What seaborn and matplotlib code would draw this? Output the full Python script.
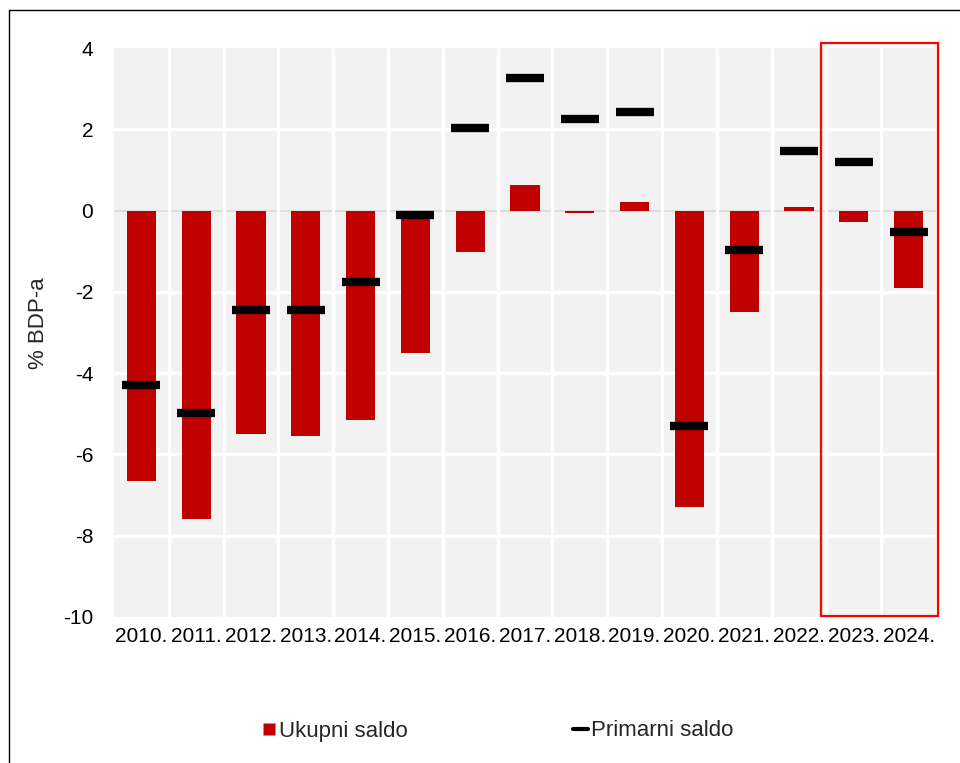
import matplotlib
matplotlib.use("Agg")
import matplotlib.pyplot as plt
import seaborn as sns
import pandas as pd
from matplotlib.lines import Line2D
from matplotlib.patches import Rectangle

years = ["2010.", "2011.", "2012.", "2013.", "2014.", "2015.", "2016.", "2017.",
         "2018.", "2019.", "2020.", "2021.", "2022.", "2023.", "2024."]
ukupni_saldo = [-6.65, -7.6, -5.5, -5.55, -5.15, -3.5, -1.02, 0.62,
                -0.05, 0.2, -7.3, -2.5, 0.1, -0.27, -1.9]
primarni_saldo = [-4.3, -4.98, -2.45, -2.45, -1.75, -0.1, 2.03, 3.27,
                  2.25, 2.42, -5.3, -0.97, 1.47, 1.2, -0.52]
yticks = [4, 2, 0, -2, -4, -6, -8, -10]

df = pd.DataFrame({"godina": years, "ukupni": ukupni_saldo, "primarni": primarni_saldo})

sns.set_theme(style="white")
plt.rcParams["font.family"] = ["Liberation Sans", "DejaVu Sans"]

fig = plt.figure(figsize=(9.6, 7.63), dpi=100)
ax = fig.add_axes([114/960, 146/763, 822/960, 569/763])
ax.set_facecolor("#f2f2f2")

sns.barplot(data=df, x="godina", y="ukupni", color="#c00000", width=0.53,
            linewidth=0, saturation=1, ax=ax, zorder=3)
sns.pointplot(data=df, x="godina", y="primarni", color="black", linestyle="none",
              marker="_", markersize=28, markeredgewidth=6, errorbar=None, ax=ax, zorder=4)

ax.set_ylim(-10, 4)
ax.set_xlim(-0.5, len(years) - 0.5)
ax.set_yticks(yticks)
ax.set_yticklabels([str(t) for t in yticks])

# white grid (cells)
for yv in yticks[1:-1]:
    if yv == 0:
        ax.axhline(yv, color="#d9d9d9", lw=1.2, zorder=2)
    else:
        ax.axhline(yv, color="white", lw=2.4, zorder=2)
for i in range(len(years) - 1):
    ax.axvline(i + 0.5, color="white", lw=2.4, zorder=2)

for s in ax.spines.values():
    s.set_visible(False)
ax.tick_params(axis="both", length=0, labelsize=15, colors="black")
ax.tick_params(axis="y", pad=15)
ax.tick_params(axis="x", pad=7)
ax.set_xlabel("")
ax.set_ylabel("% BDP-a", fontsize=16, labelpad=10)
ax.yaxis.label.set_y(0.517)

# highlight rectangle for 2023-2024
ax.add_patch(Rectangle((12.4, -9.97), 2.14, 14.09, fill=False, edgecolor="#ff0000",
                       lw=1.6, zorder=5, clip_on=False))

# legend
handles = [Line2D([0], [0], color="none", marker="s", markersize=8,
                  markerfacecolor="#c00000", markeredgecolor="none", label="Ukupni saldo"),
           Line2D([0], [0], color="black", lw=3, label="Primarni saldo")]
fig.legend(handles=handles, loc="center", bbox_to_anchor=(0.518, 32/763), ncol=2,
           frameon=False, fontsize=16, columnspacing=7.4, handlelength=0.68,
           handletextpad=0.15)

# outer frame
fig.add_artist(Line2D([9/960, 1.0], [1 - 10/763, 1 - 10/763], color="black", lw=1,
                      transform=fig.transFigure))
fig.add_artist(Line2D([9/960, 9/960], [0, 1 - 10/763], color="black", lw=1,
                      transform=fig.transFigure))

fig.savefig("out.png", dpi=100)
